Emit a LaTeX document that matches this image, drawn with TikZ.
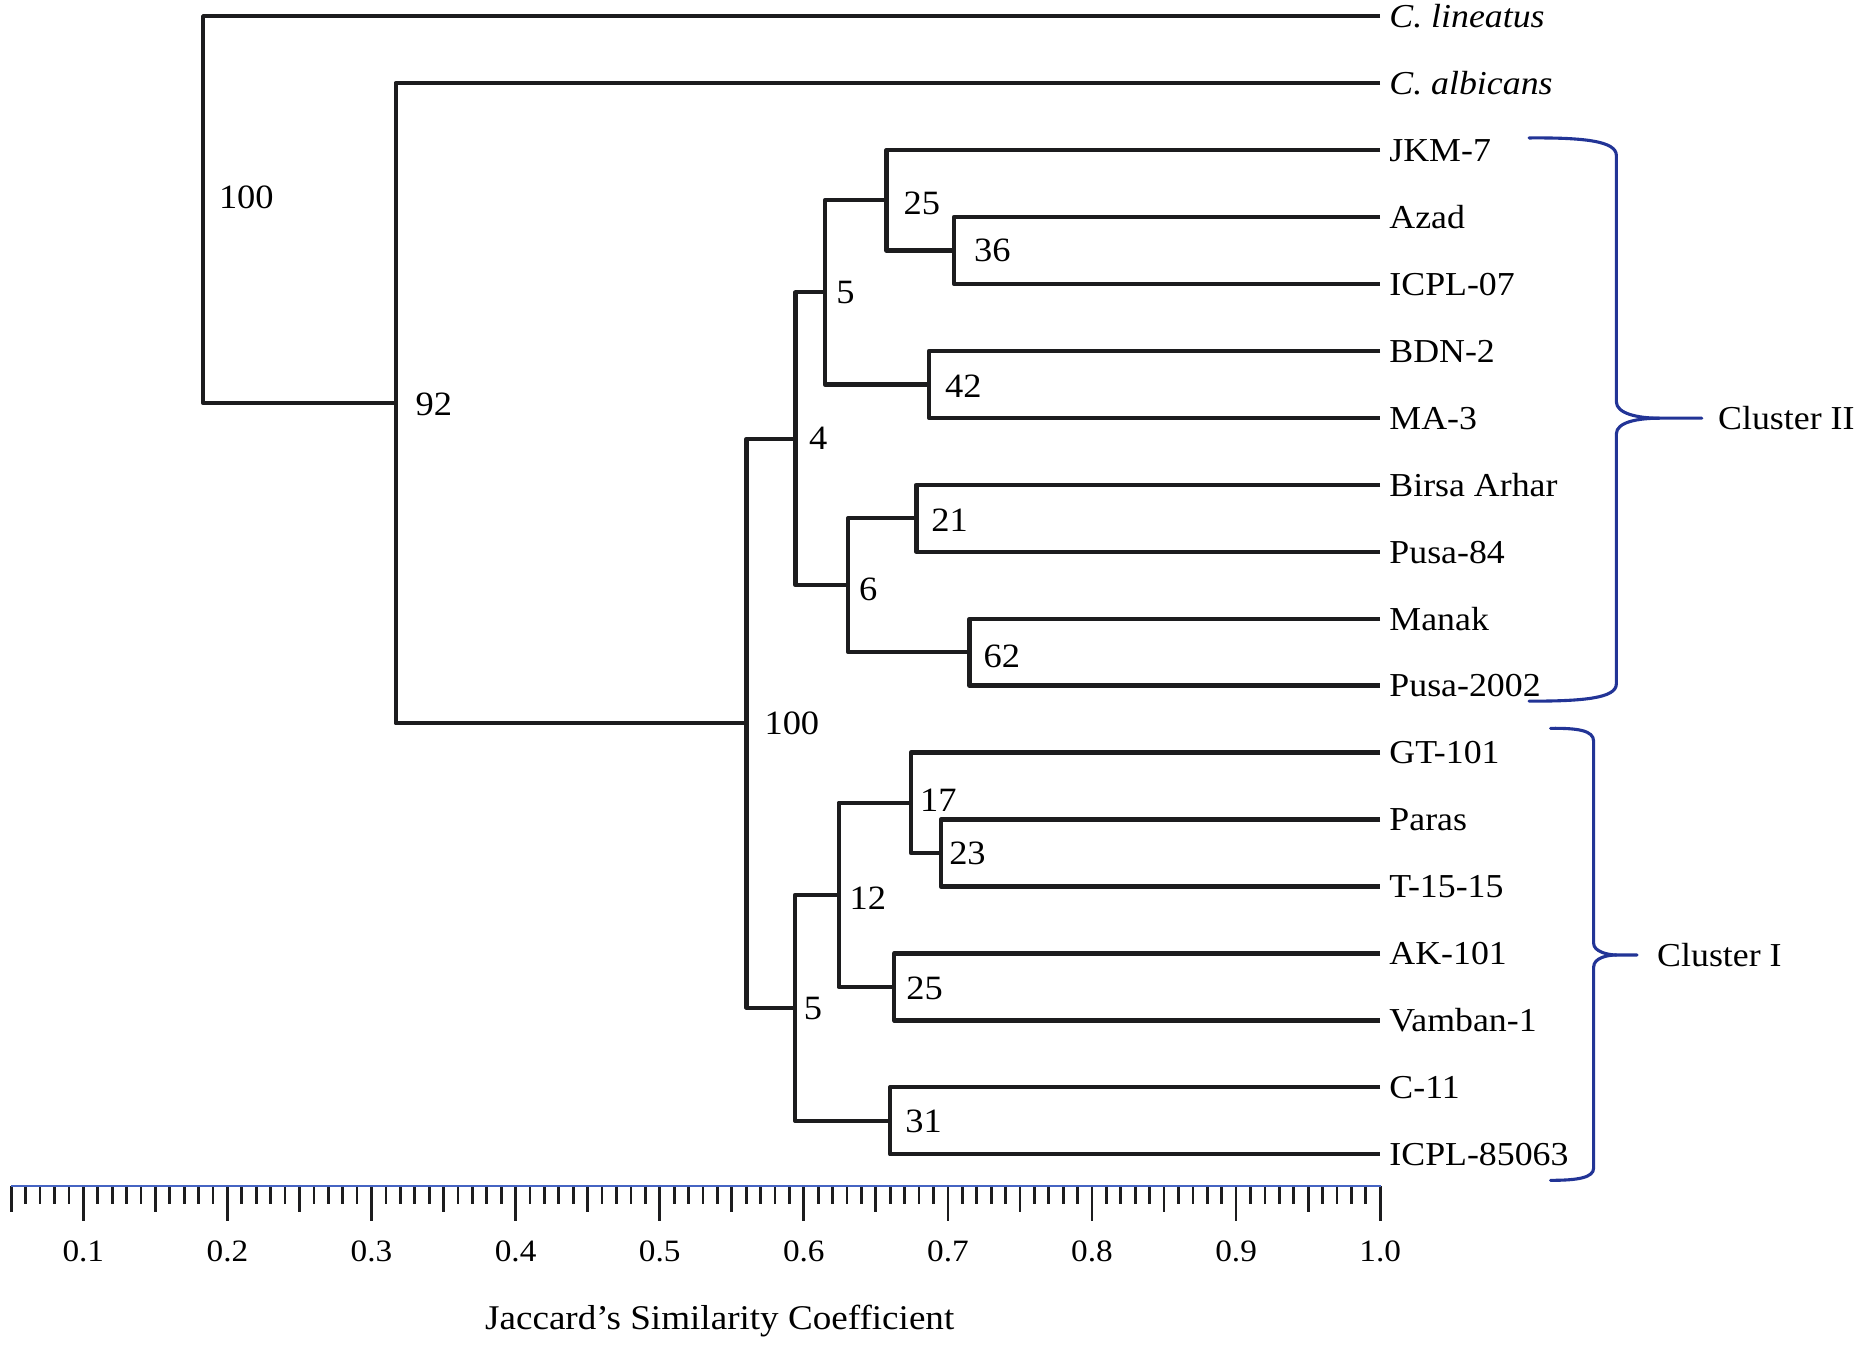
\documentclass[tikz,border=0pt]{standalone}
\usepackage{fontspec}
\setmainfont{Liberation Serif}[FakeStretch=1.07]
\usetikzlibrary{calc}
\definecolor{treec}{RGB}{28,28,30}
\definecolor{bracec}{RGB}{34,52,150}
\definecolor{axisc}{RGB}{70,100,195}
\begin{document}
\begin{tikzpicture}[x=1pt,y=-1pt,
  tree/.style={draw=treec,line width=3.6pt,line join=round},
  brace/.style={draw=bracec,line width=2.6pt,line cap=round},
  leaf/.style={anchor=west,inner sep=0pt,text height=19pt,text depth=0pt,font=\fontsize{28}{30}\selectfont},
  lab/.style={anchor=west,inner sep=0pt,text height=19.4pt,text depth=0pt,font=\fontsize{28.5}{30}\selectfont},
  ticklab/.style={inner sep=0pt,text height=17.7pt,text depth=0pt,font=\fontsize{26}{28}\selectfont},
  tick/.style={draw=treec,line width=2.3pt}]
\useasboundingbox (0,0) rectangle (1560,1126.7);
% leaf ends
\foreach \i in {0,...,17}{\coordinate (L\i) at (1154.5,{13.5+56*\i});}
% leaf labels
\node[leaf] (t0) at (1162,13.5) {\textit{C. lineatus}};
\node[leaf] (t1) at (1162,69.5) {\textit{C. albicans}};
\node[leaf] (t2) at (1162,125.5) {JKM-7};
\node[leaf] (t3) at (1162,181.5) {Azad};
\node[leaf] (t4) at (1162,237.5) {ICPL-07};
\node[leaf] (t5) at (1162,293.5) {BDN-2};
\node[leaf] (t6) at (1162,349.5) {MA-3};
\node[leaf] (t7) at (1162,405.5) {Birsa Arhar};
\node[leaf] (t8) at (1162,461.5) {Pusa-84};
\node[leaf] (t9) at (1162,517.5) {Manak};
\node[leaf] (t10) at (1162,573.5) {Pusa-2002};
\node[leaf] (t11) at (1162,629.5) {GT-101};
\node[leaf] (t12) at (1162,685.5) {Paras};
\node[leaf] (t13) at (1162,741.5) {T-15-15};
\node[leaf] (t14) at (1162,797.5) {AK-101};
\node[leaf] (t15) at (1162,853.5) {Vamban-1};
\node[leaf] (t16) at (1162,909.5) {C-11};
\node[leaf] (t17) at (1162,965.5) {ICPL-85063};
% internal nodes
\coordinate (n36) at (798,209.5);
\coordinate (n25a) at (741.5,167.5);
\coordinate (n42) at (777,321.5);
\coordinate (n5a) at (690,244.5);
\coordinate (n21) at (766.5,433.5);
\coordinate (n62) at (811,545.5);
\coordinate (n6) at (709.5,489.5);
\coordinate (n4) at (665.5,367);
\coordinate (n23) at (787,713.5);
\coordinate (n17) at (762,671.5);
\coordinate (n25b) at (748,825.5);
\coordinate (n12) at (701.5,748.5);
\coordinate (n31) at (744.5,937.5);
\coordinate (n5b) at (665,843);
\coordinate (n100b) at (624.5,605);
\coordinate (n92) at (331,337.25);
\coordinate (root) at (170,175);
% branches
\draw[tree] (L3) -| (n36) |- (L4);
\draw[tree] (L2) -| (n25a) |- (n36);
\draw[tree] (L5) -| (n42) |- (L6);
\draw[tree] (n25a) -| (n5a) |- (n42);
\draw[tree] (L7) -| (n21) |- (L8);
\draw[tree] (L9) -| (n62) |- (L10);
\draw[tree] (n21) -| (n6) |- (n62);
\draw[tree] (n5a) -| (n4) |- (n6);
\draw[tree] (L12) -| (n23) |- (L13);
\draw[tree] (L11) -| (n17) |- (n23);
\draw[tree] (L14) -| (n25b) |- (L15);
\draw[tree] (n17) -| (n12) |- (n25b);
\draw[tree] (L16) -| (n31) |- (L17);
\draw[tree] (n12) -| (n5b) |- (n31);
\draw[tree] (n4) -| (n100b) |- (n5b);
\draw[tree] (L1) -| (n92) |- (n100b);
\draw[tree] (L0) -| (root) |- (n92);
% support values
\node[lab] (b0) at (183,164.5) {100};
\node[lab] (b1) at (347.4,338) {92};
\node[lab] (b2) at (639.3,605) {100};
\node[lab] (b3) at (676.5,366) {4};
\node[lab] (b4) at (699.3,244) {5};
\node[lab] (b5) at (755.6,170) {25};
\node[lab] (b6) at (814.6,209.3) {36};
\node[lab] (b7) at (790.3,322.4) {42};
\node[lab] (b8) at (718.5,492.3) {6};
\node[lab] (b9) at (778.8,434.6) {21};
\node[lab] (b10) at (822.6,548.4) {62};
\node[lab] (b11) at (769.5,669.2) {17};
\node[lab] (b12) at (793.8,713.8) {23};
\node[lab] (b13) at (710.5,751.4) {12};
\node[lab] (b14) at (672.3,843.4) {5};
\node[lab] (b15) at (758,826) {25};
\node[lab] (b16) at (757.2,937.4) {31};
% axis
\foreach \i in {5,...,100}{
  \pgfmathsetmacro{\xx}{69.7+(\i-10)*12.053}
  \pgfmathsetmacro{\len}{ifthenelse(mod(\i,10)==0,29,ifthenelse(mod(\i,5)==0,22,15))}
  \draw[tick] (\xx,992) -- ++(0,\len);
}
\draw[draw=axisc,line width=2pt] (9.4,992) -- (1155.5,992);
\foreach \v/\t in {1/0.1,2/0.2,3/0.3,4/0.4,5/0.5,6/0.6,7/0.7,8/0.8,9/0.9,10/1.0}{
  \node[ticklab] (a\v) at ({69.7+(\v-1)*120.53},1046) {\t};
}
\node[inner sep=0pt,text height=20pt,text depth=0pt,font=\fontsize{29}{31}\selectfont] (xlab) at (602,1102) {Jaccard’s Similarity Coefficient};
% braces
\draw[brace] (1279,115.4) .. controls (1325,115) and (1352,118) .. (1352,130) -- (1352,336) .. controls (1352,346) and (1370,349.8) .. (1388,349.8) -- (1423.5,349.8);
\draw[brace] (1388,349.8) .. controls (1370,349.8) and (1352,353) .. (1352,363) -- (1352,572) .. controls (1352,584) and (1325,586.5) .. (1279,586.5);
\node[leaf] (c2) at (1437,349.8) {Cluster II};
\draw[brace] (1297,609.2) .. controls (1320,609) and (1333,611) .. (1333,620) -- (1333,789) .. controls (1333,796) and (1345,798.8) .. (1352,798.8) -- (1369.3,798.8);
\draw[brace] (1352,798.8) .. controls (1345,798.8) and (1333,801) .. (1333,809) -- (1333,977) .. controls (1333,985) and (1320,987.3) .. (1297,987.3);
\node[leaf] (c1) at (1386,798.8) {Cluster I};
\end{tikzpicture}
\end{document}
